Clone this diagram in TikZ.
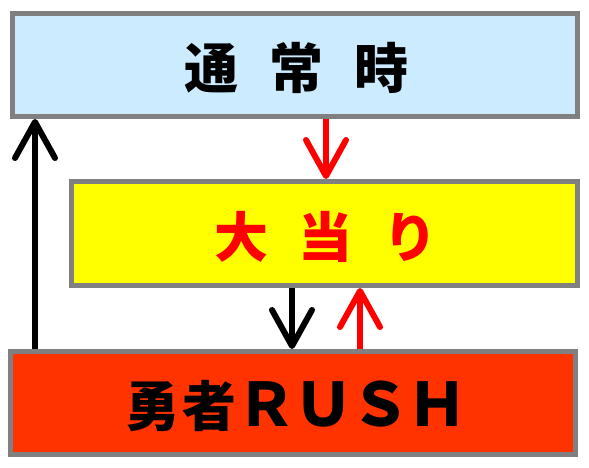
\documentclass[tikz,border=0pt]{standalone}
\usepackage{fontspec}
\newfontfamily\cjk{Noto Sans CJK JP}
\usetikzlibrary{arrows.meta}
\definecolor{boxgray}{HTML}{808080}
\definecolor{skyfill}{HTML}{CCEBFF}
\definecolor{hitfill}{HTML}{FFFF00}
\definecolor{rushfill}{HTML}{FF3300}
\definecolor{hitred}{HTML}{FF0000}
\begin{document}
\begin{tikzpicture}[x=1pt,y=-1pt,
  box/.style={draw=boxgray, line width=5pt, rectangle, inner sep=0pt},
  arr/.style={line width=6pt, -{Straight Barb[length=36pt,width=40pt,round]}},
  big/.style={font=\cjk\bfseries\fontsize{54}{54}\selectfont, inner sep=0pt, yshift=-3pt}]
\useasboundingbox (0,0) rectangle (589,468);
\node[box, fill=skyfill, minimum width=565pt, minimum height=103pt] (top) at (295,65) {};
\node[box, fill=hitfill, minimum width=506pt, minimum height=104pt] (mid) at (324.5,233.5) {};
\node[box, fill=rushfill, minimum width=565pt, minimum height=103pt] (bot) at (293,403) {};
\node[big] (toptext) at ([xshift=1.5pt]top.center)
  {\makebox[85pt]{通}\makebox[85pt]{常}\makebox[85pt]{時}};
\node[big, text=hitred] (midtext) at ([xshift=1.5pt]mid.center)
  {\makebox[85pt]{大}\makebox[85pt]{当}\makebox[85pt]{り}};
\node[big] (bottext) at ([xshift=2pt]bot.center)
  {\makebox[57pt]{勇}\makebox[57pt]{者}{\fontsize{60}{60}\selectfont\makebox[57pt]{Ｒ}\makebox[57pt]{Ｕ}\makebox[57pt]{Ｓ}\makebox[57pt]{Ｈ}}};
\coordinate (xl) at (35,0);
\coordinate (xr1) at (326,0);
\coordinate (xb) at (292,0);
\coordinate (xr2) at (360,0);
\draw[arr, black] (bot.north -| xl) -- (top.south -| xl);
\draw[arr, hitred] (top.south -| xr1) -- (mid.north -| xr1);
\draw[arr, black] (mid.south -| xb) -- (bot.north -| xb);
\draw[arr, hitred] (bot.north -| xr2) -- (mid.south -| xr2);
\end{tikzpicture}
\end{document}
